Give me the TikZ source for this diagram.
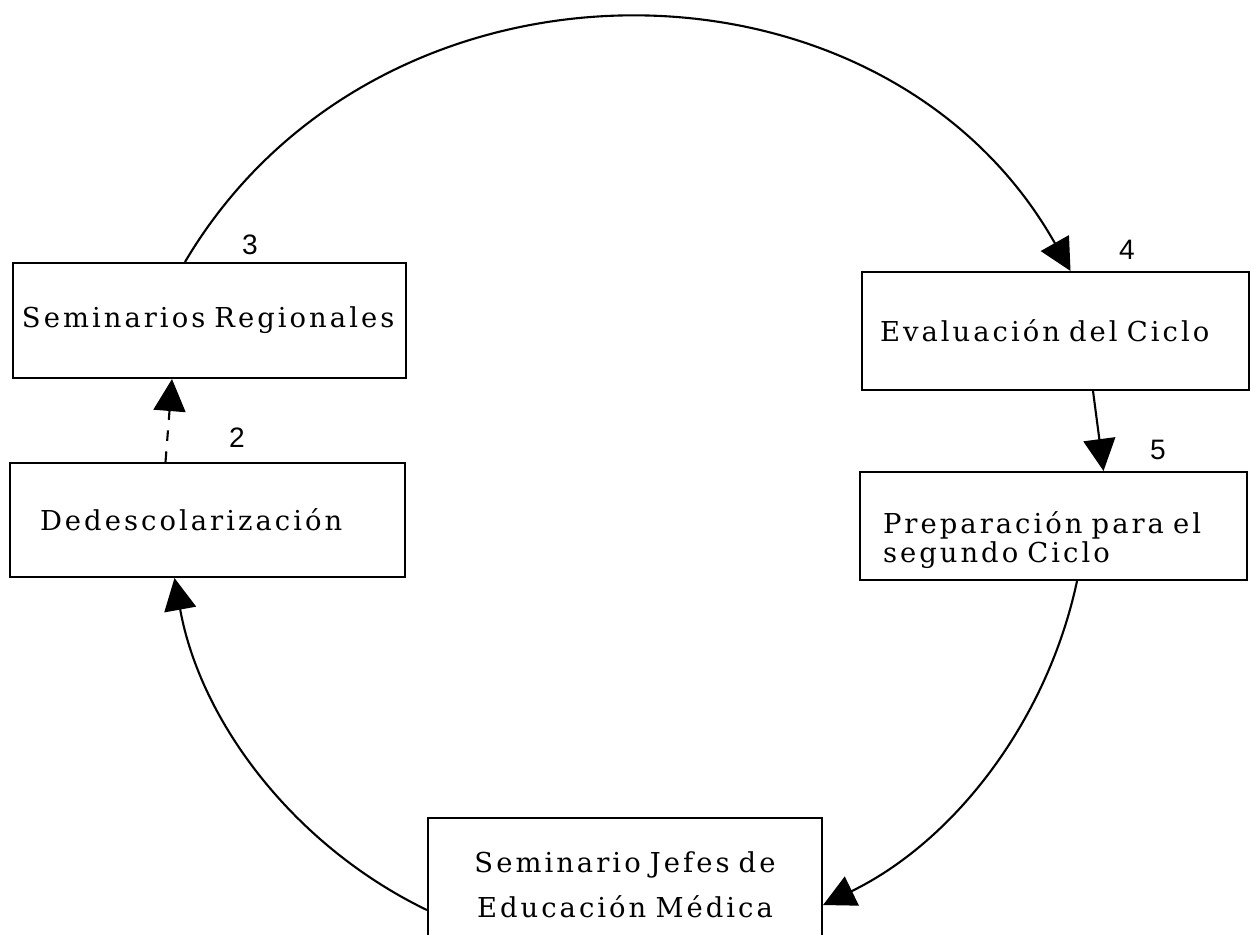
\documentclass[tikz,border=0pt]{standalone}
\usepackage{fontspec}
\setmainfont{DejaVu Serif}[LetterSpace=11, WordSpace=1.6]
\newfontfamily\numfont{Liberation Sans}
\usetikzlibrary{arrows.meta}

\begin{document}
\begin{tikzpicture}[
  box/.style={rectangle, draw, semithick, minimum height=1.15cm, inner xsep=0.18cm, text width=3.56cm, align=left, font=\fontsize{7.8}{8}\selectfont},
  num/.style={font=\numfont\footnotesize},
  arrow/.style={-{Triangle[length=3.2mm, width=3.2mm]}, semithick}
]
  \useasboundingbox (0,0) rectangle (12.54,9.34);

  \node[box, inner xsep=0.09cm, text width=3.75cm] (sreg) at (2.095,6.135) {Seminarios Regionales};
  \node[box, inner xsep=0.3cm, text width=3.35cm, minimum height=1.14cm] (dedes) at (2.075,4.14) {Dedescolarización};
  \node[box, text width=3.51cm, minimum height=1.18cm] (eval) at (10.555,6.03) {Evaluación del Ciclo};
  \node[box, inner xsep=0.23cm, text width=3.41cm, minimum height=1.08cm] (prep) at (10.535,4.08) {\rule{0pt}{5mm}Preparación para el\\segundo Ciclo};
  \node[box, inner xsep=0.17cm, text width=3.6cm, align=center, minimum height=1.34cm] (sjem) at (6.25,0.49) {Seminario Jefes de\\[4.8pt]Educación Médica};

  \node[num] (n3) at (2.50,6.89) {3};
  \node[num] (n2) at (2.37,4.96) {2};
  \node[num] (n4) at (11.27,6.84) {4};
  \node[num] (n5) at (11.58,4.84) {5};

  \draw[arrow] ([xshift=-0.245cm]sreg.north) to[bend left=60, looseness=1.1] ([xshift=0.15cm]eval.north);
  \draw[arrow] ([xshift=0.375cm]eval.south) -- ([xshift=0.5cm]prep.north);
  \draw[arrow] ([xshift=0.235cm]prep.south) to[bend left=26, looseness=0.9] ([yshift=-0.2cm]sjem.east);
  \draw[arrow] ([yshift=-0.25cm]sjem.west) to[bend left=27, looseness=0.9] ([xshift=-0.33cm]dedes.south);
  \draw[arrow, dashed] ([xshift=-0.42cm]dedes.north) -- ([xshift=-0.375cm]sreg.south);
\end{tikzpicture}
\end{document}
